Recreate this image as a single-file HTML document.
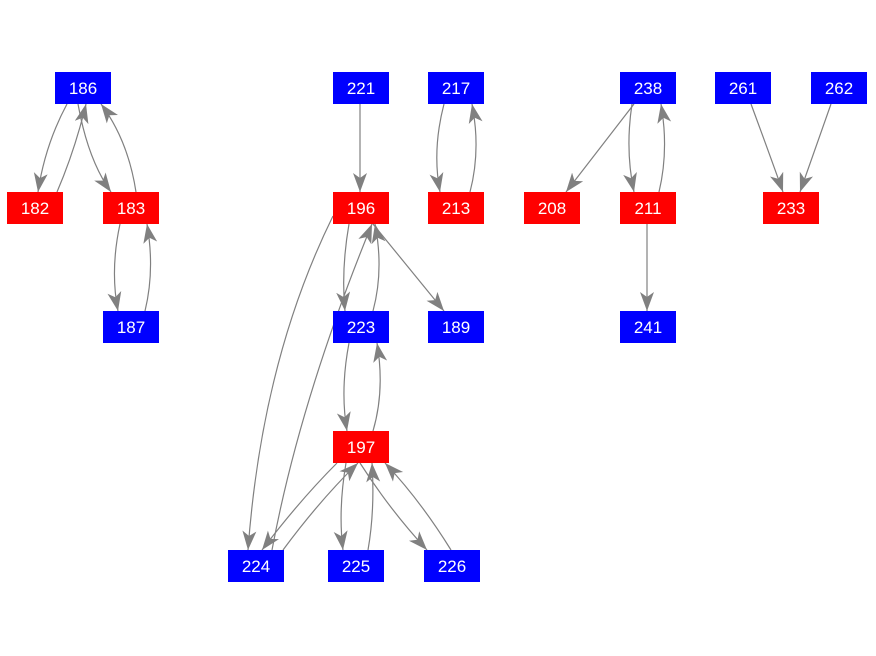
<!DOCTYPE html>
<html><head><meta charset="utf-8"><style>
html,body{margin:0;padding:0;background:#fff;}
svg{display:block;}
text{font-family:"Liberation Sans",sans-serif;font-size:17px;fill:#fff;text-anchor:middle;}
path.e{fill:none;stroke:#808080;stroke-width:1.2;}
</style></head><body>
<svg width="876" height="656" viewBox="0 0 876 656" xmlns="http://www.w3.org/2000/svg">
<defs>
<marker id="a" markerUnits="userSpaceOnUse" markerWidth="22" markerHeight="16" refX="19" refY="7" orient="auto" viewBox="0 0 22 16">
<path d="M0,0 L19,7 L0,14 L5,7 Z" fill="#808080" stroke="none"/>
</marker>
</defs>
<g marker-end="url(#a)">
<path class="e" d="M67,104 Q45,145 38,192"/>
<path class="e" d="M57,192 Q75,150 86,104"/>
<path class="e" d="M78,104 Q88,160 111,192"/>
<path class="e" d="M136,192 Q128,140 101,104"/>
<path class="e" d="M120,224 Q110,270 118,311"/>
<path class="e" d="M145,311 Q155,270 147,224"/>
<path class="e" d="M360,104 L360,192"/>
<path class="e" d="M444,104 Q432,150 440,192"/>
<path class="e" d="M470,192 Q481,150 472,104"/>
<path class="e" d="M333,216 Q262,360 248,550"/>
<path class="e" d="M272,550 Q300,400 372,224"/>
<path class="e" d="M349,224 Q341,270 345,311"/>
<path class="e" d="M373,311 Q384,270 375,224"/>
<path class="e" d="M373,224 L444,311"/>
<path class="e" d="M349,343 Q340,390 347,431"/>
<path class="e" d="M373,431 Q385,390 377,343"/>
<path class="e" d="M337,463 Q300,500 262,550"/>
<path class="e" d="M283,550 Q320,500 358,463"/>
<path class="e" d="M346,463 Q338,510 343,550"/>
<path class="e" d="M368,550 Q375,510 372,463"/>
<path class="e" d="M360,463 Q390,510 427,550"/>
<path class="e" d="M451,550 Q420,500 385,463"/>
<path class="e" d="M634,104 L566,192"/>
<path class="e" d="M632,104 Q625,150 634,192"/>
<path class="e" d="M659,192 Q669,150 661,104"/>
<path class="e" d="M647,224 L647,311"/>
<path class="e" d="M751,104 Q768,150 783,192"/>
<path class="e" d="M831,104 Q815,150 800,192"/>
</g>
<g>
<rect x="55" y="72" width="56" height="32" fill="#0000ff"/><text x="83" y="94">186</text>
<rect x="7" y="192" width="56" height="32" fill="#ff0000"/><text x="35" y="214">182</text>
<rect x="103" y="192" width="56" height="32" fill="#ff0000"/><text x="131" y="214">183</text>
<rect x="103" y="311" width="56" height="32" fill="#0000ff"/><text x="131" y="333">187</text>
<rect x="333" y="72" width="56" height="32" fill="#0000ff"/><text x="361" y="94">221</text>
<rect x="428" y="72" width="56" height="32" fill="#0000ff"/><text x="456" y="94">217</text>
<rect x="333" y="192" width="56" height="32" fill="#ff0000"/><text x="361" y="214">196</text>
<rect x="428" y="192" width="56" height="32" fill="#ff0000"/><text x="456" y="214">213</text>
<rect x="333" y="311" width="56" height="32" fill="#0000ff"/><text x="361" y="333">223</text>
<rect x="428" y="311" width="56" height="32" fill="#0000ff"/><text x="456" y="333">189</text>
<rect x="333" y="431" width="56" height="32" fill="#ff0000"/><text x="361" y="453">197</text>
<rect x="228" y="550" width="56" height="32" fill="#0000ff"/><text x="256" y="572">224</text>
<rect x="328" y="550" width="56" height="32" fill="#0000ff"/><text x="356" y="572">225</text>
<rect x="424" y="550" width="56" height="32" fill="#0000ff"/><text x="452" y="572">226</text>
<rect x="620" y="72" width="56" height="32" fill="#0000ff"/><text x="648" y="94">238</text>
<rect x="715" y="72" width="56" height="32" fill="#0000ff"/><text x="743" y="94">261</text>
<rect x="811" y="72" width="56" height="32" fill="#0000ff"/><text x="839" y="94">262</text>
<rect x="524" y="192" width="56" height="32" fill="#ff0000"/><text x="552" y="214">208</text>
<rect x="620" y="192" width="56" height="32" fill="#ff0000"/><text x="648" y="214">211</text>
<rect x="763" y="192" width="56" height="32" fill="#ff0000"/><text x="791" y="214">233</text>
<rect x="620" y="311" width="56" height="32" fill="#0000ff"/><text x="648" y="333">241</text>
</g>
</svg>
</body></html>
